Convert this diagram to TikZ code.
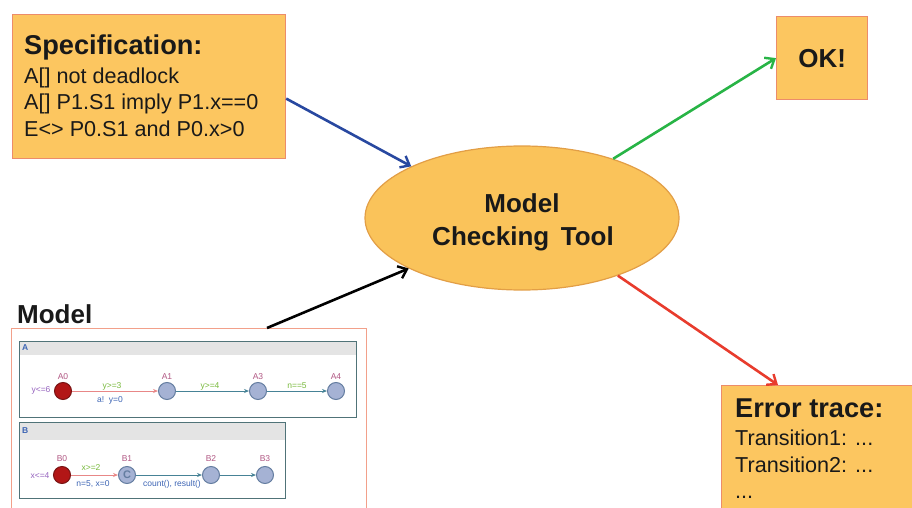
\documentclass[tikz,border=0pt]{standalone}
\usepackage{fontspec}
\setmainfont{Liberation Sans}
\usetikzlibrary{shapes.geometric,arrows.meta}

\definecolor{boxfill}{RGB}{252,198,96}
\definecolor{boxline}{RGB}{236,140,106}
\definecolor{ellfill}{RGB}{250,195,90}
\definecolor{ellline}{RGB}{226,158,70}
\definecolor{arrblue}{RGB}{40,72,160}
\definecolor{arrgreen}{RGB}{40,180,70}
\definecolor{arrred}{RGB}{232,60,45}
\definecolor{panelline}{RGB}{80,115,120}
\definecolor{panelhead}{RGB}{228,228,228}
\definecolor{locfill}{RGB}{165,178,212}
\definecolor{locline}{RGB}{100,125,160}
\definecolor{initfill}{RGB}{178,22,22}
\definecolor{initline}{RGB}{120,20,20}
\definecolor{locname}{RGB}{176,86,130}
\definecolor{invcol}{RGB}{150,100,190}
\definecolor{guardcol}{RGB}{120,185,60}
\definecolor{updcol}{RGB}{60,100,180}
\definecolor{edgered}{RGB}{232,135,135}
\definecolor{edgeteal}{RGB}{70,130,150}
\definecolor{mboxline}{RGB}{242,160,138}
\definecolor{ink}{RGB}{25,25,25}

\tikzset{
  orangebox/.style={draw=boxline, line width=1.2pt, fill=boxfill, inner sep=0pt, anchor=north west},
  boldtext/.style={font=\fontsize{26}{30}\selectfont\bfseries, text=ink, inner sep=0pt},
  bigbold/.style={font=\fontsize{27.2}{31}\selectfont\bfseries, text=ink, inner sep=0pt, anchor=base west},
  plaintext/.style={font=\fontsize{21.6}{25}\selectfont, text=ink, inner sep=0pt, anchor=base west},
  flow/.style={line width=2.6pt, -{Straight Barb[length=8pt,width=13pt,line width=2.4pt]}},
  panel/.style={draw=panelline, line width=1.4pt, inner sep=0pt, anchor=north west},
  loc/.style={circle, draw=locline, fill=locfill, line width=1pt, minimum size=17pt, inner sep=0pt},
  initloc/.style={circle, draw=initline, fill=initfill, line width=1pt, minimum size=17pt, inner sep=0pt},
  tiny/.style={font=\fontsize{8.5}{10}\selectfont, inner sep=0pt},
  tedge/.style={line width=1pt, -{Stealth[length=5pt,width=4pt]}},
}

\begin{document}
\begin{tikzpicture}[x=1pt,y=-1pt]
\useasboundingbox (0,0) rectangle (912,508);

% specification box
\node[orangebox, minimum width=273pt, minimum height=144pt] (spec) at (12,14) {};
\node[bigbold] (spectitle) at (24,55) {Specification:};
\node[plaintext] (spec1) at (24,84) {A[] not deadlock};
\node[plaintext] (spec2) at (24,110) {A[] P1.S1 imply P1.x==0};
\node[plaintext] (spec3) at (24,136) {E<> P0.S1 and P0.x>0};

% OK box
\node[orangebox, minimum width=91pt, minimum height=83pt] (ok) at (776,16) {};
\node[boldtext] (oktext) at (ok.center) {OK!};

% model checker
\node[ellipse, draw=ellline, line width=1.2pt, fill=ellfill, minimum width=314pt, minimum height=144pt] (mct) at (522,218) {};
\node[boldtext, anchor=base] (mct1) at (522,212) {Model};
\node[boldtext, anchor=base] (mct2) at (523,245) {Checking\, Tool};

% error trace box
\node[orangebox, minimum width=210pt, minimum height=150pt] (err) at (721,385) {};
\node[bigbold] (errtitle) at (735,417) {Error trace:};
\node[plaintext] (err1) at (735,445) {Transition1: ...};
\node[plaintext] (err2) at (735,472) {Transition2: ...};
\node[plaintext] (err3) at (735,498) {...};

% model label and frame
\node[boldtext, anchor=base west] (modeltitle) at (17,323) {Model};
\node[draw=mboxline, line width=1.2pt, inner sep=0pt, anchor=north west, minimum width=355pt, minimum height=200pt] (mbox) at (11,328) {};

% automaton A
\fill[panelhead] (19,341) rectangle (356,355);
\node[panel, minimum width=337pt, minimum height=76pt] (panA) at (19,341) {};
\node[tiny, text=updcol, font=\fontsize{8.5}{10}\selectfont\bfseries, anchor=west] (panAname) at (22,348) {A};
\node[initloc] (a0) at (63,391) {};
\node[loc] (a1) at (167,391) {};
\node[loc] (a3) at (258,391) {};
\node[loc] (a4) at (336,391) {};
\node[tiny, text=locname] (a0n) at (63,377) {A0};
\node[tiny, text=locname] (a1n) at (167,377) {A1};
\node[tiny, text=locname] (a3n) at (258,377) {A3};
\node[tiny, text=locname] (a4n) at (336,377) {A4};
\node[tiny, text=invcol] (a0inv) at (41,390) {y<=6};
\draw[tedge, draw=edgered] (a0) -- (a1);
\draw[tedge, draw=edgeteal] (a1) -- (a3);
\draw[tedge, draw=edgeteal] (a3) -- (a4);
\node[tiny, text=guardcol] (g1) at (112,386) {y>=3};
\node[tiny, text=updcol] (u1) at (110,400) {a!\ \ y=0};
\node[tiny, text=guardcol] (g2) at (210,386) {y>=4};
\node[tiny, text=guardcol] (g3) at (297,386) {n==5};

% automaton B
\fill[panelhead] (19,422) rectangle (285,440);
\node[panel, minimum width=266pt, minimum height=76pt] (panB) at (19,422) {};
\node[tiny, text=updcol, font=\fontsize{8.5}{10}\selectfont\bfseries, anchor=west] (panBname) at (22,431) {B};
\node[initloc] (b0) at (62,475) {};
\node[loc] (b1) at (127,475) {};
\node[tiny, text=locline, font=\fontsize{11}{12}\selectfont\bfseries] (b1c) at (b1) {C};
\node[loc] (b2) at (211,475) {};
\node[loc] (b3) at (265,475) {};
\node[tiny, text=locname] (b0n) at (62,459) {B0};
\node[tiny, text=locname] (b1n) at (127,459) {B1};
\node[tiny, text=locname] (b2n) at (211,459) {B2};
\node[tiny, text=locname] (b3n) at (265,459) {B3};
\node[tiny, text=invcol] (b0inv) at (40,476) {x<=4};
\draw[tedge, draw=edgered] (b0) -- (b1);
\draw[tedge, draw=edgeteal] (b1) -- (b2);
\draw[tedge, draw=edgeteal] (b2) -- (b3);
\node[tiny, text=guardcol] (g4) at (91,468) {x>=2};
\node[tiny, text=updcol] (u4) at (93,484) {n=5, x=0};
\node[tiny, text=updcol] (u5) at (172,484) {count(), result()};

% flows
\draw[flow, draw=arrblue] (spec.-5) -- (mct.155);
\draw[flow, draw=black] ([xshift=256pt]mbox.north west) -- (mct.204);
\draw[flow, draw=arrgreen] (mct.33) -- (ok.west);
\draw[flow, draw=arrred] (mct.-31) -- ([xshift=57pt]err.north west);
\end{tikzpicture}
\end{document}
